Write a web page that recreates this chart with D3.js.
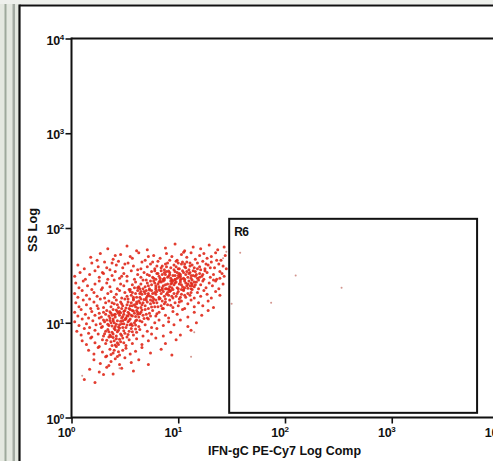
<!DOCTYPE html>
<html><head><meta charset="utf-8">
<script src="https://cdn.jsdelivr.net/npm/d3@7"></script>
<style>html,body{margin:0;padding:0;background:#fff;overflow:hidden}</style>
</head><body>
<svg id="chart" width="493" height="461"></svg>
<script>
// ---- data (log10 of event intensities) ----
const xTickExponents = [0, 1, 2, 3, 4];
const yTickExponents = [0, 1, 2, 3, 4];
const xAxisTitle = "IFN-gC PE-Cy7 Log Comp";
const yAxisTitle = "SS Log";
const gateName = "R6";
const gateX = [30, 6300];   // IFN-gC range of gate R6
const gateY = [1.12, 125];  // SS range of gate R6

// main population: [log10 IFN-gC, log10 SS]
const mainEvents = [
[0.34,1.78],[0.52,1.81],[0.71,1.77],[0.88,1.79],[0.97,1.83],[1.06,1.76],[1.14,1.80],[1.21,1.78],[1.29,1.82],[1.37,1.77],[1.43,1.80],[0.61,1.76],
[0.18,1.69],[0.27,1.73],[0.39,1.67],[0.46,1.72],[0.55,1.70],[0.63,1.74],[0.69,1.66],[0.77,1.71],[0.83,1.68],[0.89,1.73],[0.94,1.70],[0.99,1.66],[1.03,1.72],[1.08,1.69],[1.12,1.74],[1.16,1.67],[1.20,1.71],[1.24,1.73],[1.27,1.68],[1.31,1.70],[1.35,1.74],[1.40,1.66],[1.44,1.71],[0.92,1.66],[1.05,1.745],
[0.06,1.61],[0.12,1.57],[0.19,1.63],[0.25,1.59],[0.31,1.64],[0.36,1.56],[0.42,1.61],[0.48,1.58],[0.53,1.63],[0.58,1.60],[0.62,1.56],[0.66,1.64],[0.71,1.59],[0.74,1.62],[0.78,1.57],[0.81,1.65],[0.85,1.60],[0.87,1.56],[0.90,1.63],[0.93,1.58],[0.96,1.61],[0.98,1.65],[1.01,1.57],[1.03,1.62],[1.06,1.59],[1.08,1.64],[1.10,1.56],[1.13,1.61],[1.15,1.58],[1.18,1.63],[1.20,1.59],[1.23,1.65],[1.25,1.57],[1.28,1.61],[1.31,1.64],[1.34,1.58],[1.38,1.62],[1.42,1.60],[1.45,1.57],[0.89,1.59],[1.00,1.63],[1.11,1.60],[0.76,1.64],[1.21,1.56],[0.44,1.65],
[0.03,1.49],[0.08,1.53],[0.13,1.46],[0.17,1.51],[0.22,1.55],[0.26,1.48],[0.30,1.52],[0.34,1.46],[0.38,1.50],[0.41,1.54],[0.45,1.47],[0.49,1.52],[0.52,1.49],[0.56,1.55],[0.59,1.46],[0.62,1.51],[0.65,1.48],[0.68,1.53],[0.70,1.45],[0.73,1.50],[0.75,1.54],[0.77,1.47],[0.80,1.52],[0.82,1.49],[0.84,1.55],[0.86,1.46],[0.88,1.51],[0.90,1.48],[0.92,1.53],[0.94,1.45],[0.95,1.50],[0.97,1.54],[0.99,1.47],[1.01,1.52],[1.02,1.49],[1.04,1.55],[1.06,1.46],[1.07,1.51],[1.09,1.48],[1.11,1.53],[1.13,1.45],[1.14,1.50],[1.16,1.54],[1.18,1.47],[1.20,1.52],[1.22,1.49],[1.24,1.46],[1.27,1.53],[1.30,1.48],[1.33,1.51],[1.36,1.46],[1.39,1.54],[1.43,1.49],[0.87,1.53],[0.93,1.47],[1.00,1.50],[1.05,1.53],[0.79,1.46],[1.12,1.50],[0.71,1.51],[0.97,1.46],[1.17,1.51],[0.83,1.47],[1.03,1.465],[0.91,1.545],
[0.04,1.42],[0.07,1.37],[0.11,1.44],[0.15,1.39],[0.19,1.35],[0.22,1.41],[0.26,1.44],[0.29,1.37],[0.33,1.42],[0.36,1.38],[0.40,1.45],[0.43,1.36],[0.46,1.41],[0.49,1.39],[0.52,1.44],[0.55,1.35],[0.57,1.40],[0.60,1.43],[0.62,1.37],[0.65,1.41],[0.67,1.45],[0.69,1.38],[0.71,1.42],[0.73,1.36],[0.75,1.40],[0.77,1.44],[0.79,1.37],[0.81,1.41],[0.82,1.35],[0.84,1.43],[0.86,1.39],[0.87,1.45],[0.89,1.36],[0.90,1.41],[0.92,1.38],[0.93,1.44],[0.95,1.35],[0.96,1.40],[0.98,1.43],[0.99,1.37],[1.01,1.41],[1.02,1.45],[1.04,1.38],[1.05,1.35],[1.07,1.42],[1.08,1.39],[1.10,1.44],[1.12,1.36],[1.13,1.41],[1.15,1.38],[1.17,1.43],[1.19,1.36],[1.21,1.40],[1.23,1.44],[1.26,1.37],[1.29,1.42],[1.32,1.39],[1.35,1.44],[1.38,1.36],[1.42,1.41],[0.94,1.42],[0.88,1.40],[1.00,1.36],[1.06,1.44],[0.85,1.37],[0.97,1.45],[1.11,1.39],[0.78,1.42],[0.91,1.355],[1.03,1.40],[0.83,1.445],[1.16,1.40],[0.72,1.39],[0.64,1.36],[1.09,1.365],
[0.03,1.31],[0.06,1.27],[0.10,1.34],[0.14,1.29],[0.17,1.25],[0.21,1.32],[0.24,1.28],[0.28,1.35],[0.31,1.26],[0.34,1.31],[0.37,1.33],[0.40,1.27],[0.42,1.30],[0.45,1.34],[0.47,1.26],[0.50,1.32],[0.52,1.28],[0.54,1.35],[0.56,1.29],[0.58,1.25],[0.60,1.31],[0.62,1.34],[0.64,1.27],[0.66,1.30],[0.68,1.33],[0.70,1.26],[0.72,1.31],[0.74,1.28],[0.75,1.34],[0.77,1.25],[0.79,1.30],[0.80,1.33],[0.82,1.27],[0.84,1.31],[0.85,1.35],[0.87,1.28],[0.88,1.25],[0.90,1.32],[0.91,1.29],[0.93,1.34],[0.95,1.26],[0.96,1.31],[0.98,1.28],[1.00,1.33],[1.01,1.25],[1.03,1.30],[1.05,1.34],[1.07,1.27],[1.09,1.31],[1.11,1.29],[1.13,1.35],[1.15,1.26],[1.18,1.32],[1.21,1.28],[1.24,1.34],[1.27,1.30],[1.31,1.26],[1.35,1.33],[1.39,1.29],[0.89,1.30],[0.78,1.32],[0.94,1.28],[0.71,1.28],[0.83,1.255],[0.99,1.31],[0.65,1.33],[1.06,1.29],[0.76,1.27],[0.92,1.33],[0.57,1.32],[1.02,1.27],[0.86,1.33],[0.73,1.345],[0.61,1.27],[1.12,1.32],
[0.04,1.21],[0.07,1.17],[0.11,1.24],[0.14,1.19],[0.18,1.15],[0.21,1.22],[0.24,1.18],[0.27,1.25],[0.30,1.16],[0.32,1.21],[0.35,1.23],[0.37,1.17],[0.40,1.20],[0.42,1.24],[0.44,1.16],[0.46,1.22],[0.48,1.18],[0.50,1.25],[0.52,1.19],[0.54,1.15],[0.56,1.21],[0.58,1.24],[0.60,1.17],[0.61,1.20],[0.63,1.23],[0.65,1.16],[0.67,1.21],[0.69,1.18],[0.70,1.24],[0.72,1.15],[0.74,1.20],[0.76,1.23],[0.78,1.17],[0.80,1.21],[0.82,1.25],[0.84,1.18],[0.86,1.15],[0.88,1.22],[0.90,1.19],[0.92,1.24],[0.95,1.16],[0.97,1.21],[1.00,1.18],[1.03,1.23],[1.06,1.15],[1.09,1.20],[1.12,1.24],[1.15,1.17],[1.19,1.21],[1.23,1.18],[1.28,1.23],[1.33,1.16],[0.53,1.22],[0.66,1.19],[0.75,1.165],[0.59,1.19],[0.47,1.20],[0.81,1.17],[0.71,1.22],[0.38,1.21],[0.62,1.155],[0.87,1.20],[0.55,1.18],[0.79,1.24],[0.43,1.19],[0.68,1.245],[0.93,1.185],[0.51,1.155],[1.01,1.22],[0.64,1.21],
[0.03,1.11],[0.06,1.07],[0.09,1.14],[0.13,1.09],[0.16,1.05],[0.19,1.12],[0.22,1.08],[0.25,1.15],[0.28,1.06],[0.30,1.11],[0.33,1.13],[0.35,1.07],[0.37,1.10],[0.39,1.14],[0.41,1.06],[0.43,1.12],[0.45,1.08],[0.47,1.15],[0.49,1.09],[0.51,1.05],[0.53,1.11],[0.55,1.14],[0.57,1.07],[0.59,1.10],[0.61,1.13],[0.63,1.06],[0.65,1.11],[0.67,1.08],[0.69,1.14],[0.71,1.05],[0.73,1.10],[0.76,1.13],[0.79,1.07],[0.82,1.11],[0.85,1.15],[0.88,1.08],[0.91,1.05],[0.95,1.12],[0.99,1.09],[1.04,1.14],[1.09,1.06],[1.15,1.11],[1.22,1.08],[1.28,1.13],[0.44,1.10],[0.50,1.13],[0.56,1.08],[0.62,1.09],[0.38,1.08],[0.48,1.065],[0.54,1.095],[0.66,1.135],[0.42,1.135],[0.58,1.125],[0.36,1.115],[0.70,1.09],[0.52,1.075],[0.46,1.105],[0.60,1.065],[0.74,1.07],[0.64,1.095],[0.40,1.085],[0.32,1.09],[0.26,1.10],[0.80,1.095],
[0.03,1.01],[0.07,0.97],[0.10,1.04],[0.14,0.99],[0.17,0.95],[0.20,1.02],[0.23,0.98],[0.26,1.05],[0.29,0.96],[0.31,1.01],[0.33,1.03],[0.35,0.97],[0.37,1.00],[0.39,1.04],[0.41,0.96],[0.43,1.02],[0.45,0.98],[0.47,1.05],[0.49,0.99],[0.51,0.95],[0.53,1.01],[0.55,1.04],[0.57,0.97],[0.59,1.00],[0.61,1.03],[0.63,0.96],[0.66,1.01],[0.69,0.98],[0.72,1.04],[0.75,0.95],[0.78,1.00],[0.82,1.03],[0.86,0.97],[0.91,1.01],[0.96,0.98],[1.02,1.03],[1.09,0.96],[1.17,1.00],[0.40,1.00],[0.46,1.015],[0.52,0.975],[0.36,1.025],[0.44,0.955],[0.50,1.035],[0.56,0.99],[0.42,0.985],[0.48,1.02],[0.34,0.985],[0.38,0.965],[0.54,1.025],[0.60,0.975],[0.64,1.02],[0.30,1.03],[0.27,0.99],[0.68,1.045],
[0.05,0.91],[0.09,0.87],[0.12,0.94],[0.16,0.89],[0.19,0.85],[0.22,0.92],[0.25,0.88],[0.28,0.95],[0.30,0.86],[0.32,0.91],[0.34,0.93],[0.36,0.87],[0.38,0.90],[0.40,0.94],[0.42,0.86],[0.44,0.92],[0.46,0.88],[0.48,0.95],[0.50,0.89],[0.52,0.85],[0.54,0.91],[0.56,0.94],[0.58,0.87],[0.61,0.90],[0.64,0.93],[0.67,0.86],[0.71,0.91],[0.75,0.88],[0.80,0.94],[0.86,0.86],[0.93,0.90],[1.02,0.87],[1.12,0.92],[0.39,0.88],[0.43,0.905],[0.47,0.865],[0.35,0.905],[0.41,0.925],[0.45,0.945],[0.49,0.915],[0.53,0.875],[0.31,0.885],[0.57,0.905],[0.37,0.855],[0.60,0.935],
[0.10,0.81],[0.14,0.77],[0.18,0.84],[0.22,0.79],[0.26,0.75],[0.29,0.82],[0.32,0.78],[0.35,0.85],[0.38,0.76],[0.40,0.81],[0.42,0.83],[0.44,0.77],[0.46,0.80],[0.48,0.84],[0.51,0.76],[0.54,0.82],[0.57,0.78],[0.61,0.83],[0.66,0.77],[0.72,0.81],[0.79,0.84],[0.88,0.78],[0.98,0.82],[0.37,0.80],[0.41,0.765],[0.45,0.825],[0.33,0.815],[0.49,0.79],[0.39,0.845],[0.43,0.79],
[0.16,0.71],[0.21,0.67],[0.25,0.74],[0.29,0.69],[0.33,0.65],[0.36,0.72],[0.39,0.68],[0.42,0.75],[0.45,0.66],[0.48,0.71],[0.51,0.73],[0.55,0.67],[0.60,0.70],[0.66,0.74],[0.74,0.68],[0.84,0.72],[0.94,0.66],[0.40,0.71],[0.44,0.695],[0.37,0.665],
[0.21,0.61],[0.27,0.57],[0.32,0.64],[0.37,0.59],[0.41,0.62],[0.45,0.56],[0.50,0.63],[0.56,0.58],[0.63,0.61],[0.72,0.56],[0.35,0.55],[0.43,0.645],
[0.17,0.51],[0.26,0.48],[0.33,0.53],[0.39,0.46],[0.47,0.52],[0.58,0.49],[0.30,0.455],
[0.12,0.40],[0.22,0.37]
];
// extra events in the dense core of the population
const coreEvents = [
[0.81,1.52],[0.86,1.44],[0.91,1.49],[0.96,1.56],[1.02,1.43],[1.07,1.58],[1.12,1.47],[0.84,1.58],[0.94,1.37],[0.99,1.53],[1.04,1.64],[1.09,1.41],[1.14,1.55],[1.19,1.45],[0.79,1.39],[0.88,1.62],[0.97,1.42],[1.01,1.48],[1.06,1.37],[1.11,1.63],[1.16,1.49],[0.76,1.48],[0.83,1.34],[0.92,1.51],[0.98,1.59],[1.03,1.35],[1.08,1.54],[1.13,1.39],[1.18,1.57],[1.23,1.51],[0.87,1.47],[0.95,1.44],[1.00,1.57],[1.05,1.47],[1.10,1.52],[1.15,1.43],[0.82,1.43],[0.89,1.54],[0.93,1.41],[1.02,1.51],[0.78,1.55],[0.85,1.51],[0.91,1.35],[0.97,1.50],[1.06,1.62],[1.12,1.42],[1.20,1.48],[1.25,1.55],[0.74,1.44],[0.80,1.60],
[0.58,1.27],[0.63,1.38],[0.69,1.31],[0.74,1.24],[0.79,1.35],[0.55,1.33],[0.61,1.22],[0.67,1.36],[0.72,1.29],[0.77,1.21],[0.82,1.38],[0.53,1.25],[0.59,1.37],[0.65,1.25],[0.70,1.34],[0.76,1.31],[0.85,1.23],[0.88,1.36],[0.57,1.18],[0.64,1.31],
[0.39,1.02],[0.45,1.12],[0.51,1.04],[0.57,1.13],[0.41,1.09],[0.47,0.99],[0.53,1.07],[0.60,1.02],[0.36,1.05],[0.49,1.12],[0.55,0.98],[0.62,1.11],
[0.24,1.66],[0.33,1.58],[0.41,1.71],[0.50,1.62],[0.57,1.68],[0.65,1.57],[0.72,1.70],[0.29,1.53],[0.47,1.49],[0.38,1.63],
[1.30,1.58],[1.36,1.66],[1.41,1.52],[1.33,1.45],[1.26,1.62],[1.39,1.47]
];
// sparse events near / inside the gate
const sparseEvents = [
[1.58,1.74],[2.10,1.50],[2.53,1.37],[1.87,1.21],[1.50,1.20],[1.45,1.75],[1.42,1.68],[1.15,0.90],[1.12,0.64],[0.45,0.52],[0.10,0.44]
];

// ---- drawing ----
const svg = d3.select("#chart");
const W = 493, H = 461;

// scanned-page look on the far left
svg.append("rect").attr("x",0).attr("y",0).attr("width",W).attr("height",H).attr("fill","#ffffff");
svg.append("rect").attr("x",0).attr("y",0).attr("width",19).attr("height",H).attr("fill","#e4e8e0");
svg.append("rect").attr("x",4.5).attr("y",0).attr("width",2).attr("height",H).attr("fill","#9ea99c");
svg.append("rect").attr("x",12.5).attr("y",0).attr("width",2.5).attr("height",H).attr("fill","#a3aaa2");
svg.append("rect").attr("x",0).attr("y",0).attr("width",W).attr("height",4).attr("fill","#eef0ec");
// outer frame
svg.append("line").attr("x1",19.5).attr("x2",19.5).attr("y1",4.5).attr("y2",H).attr("stroke","#111").attr("stroke-width",2.2);
svg.append("line").attr("x1",19.5).attr("x2",W).attr("y1",5.5).attr("y2",5.5).attr("stroke","#111").attr("stroke-width",2.2);

const x = d3.scaleLog().domain([1, 1e4]).range([71.5, 498.5]);
const y = d3.scaleLog().domain([1, 1e4]).range([417.5, 38.5]);

// events
const dotColor = "#e0281a";
svg.append("g").selectAll("circle").data(mainEvents.concat(coreEvents)).join("circle")
  .attr("cx", d => x(Math.pow(10, d[0])))
  .attr("cy", d => y(Math.pow(10, d[1])))
  .attr("r", 1.5)
  .attr("fill", dotColor)
  .attr("opacity", 0.9);
svg.append("g").selectAll("circle").data(sparseEvents).join("circle")
  .attr("cx", d => x(Math.pow(10, d[0])))
  .attr("cy", d => y(Math.pow(10, d[1])))
  .attr("r", 1.0)
  .attr("fill", "#c77a72")
  .attr("opacity", 0.8);

// plot box: left, top, bottom lines
svg.append("line").attr("x1",x(1)).attr("x2",W).attr("y1",y(1e4)).attr("y2",y(1e4)).attr("stroke","#111").attr("stroke-width",2);
svg.append("line").attr("x1",x(1)).attr("x2",x(1)).attr("y1",y(1e4)-1).attr("y2",y(1)+1).attr("stroke","#111").attr("stroke-width",2);

// axes (tick marks) via d3 axes
const xAxis = d3.axisBottom(x).tickValues(xTickExponents.map(e => Math.pow(10, e))).tickSize(6).tickSizeOuter(0).tickFormat("");
const yAxis = d3.axisLeft(y).tickValues(yTickExponents.map(e => Math.pow(10, e))).tickSize(6).tickSizeOuter(0).tickFormat("");
const gx = svg.append("g").attr("transform", `translate(0,${y(1)})`).call(xAxis);
const gy = svg.append("g").attr("transform", `translate(${x(1)},0)`).call(yAxis);
gx.select(".domain").attr("d", `M${x(1)},0H${W}`).attr("stroke","#111").attr("stroke-width",2);
gy.select(".domain").remove();
gx.selectAll(".tick line").attr("stroke","#111").attr("stroke-width",1.6);
gy.selectAll(".tick line").attr("stroke","#111").attr("stroke-width",1.6);

const font = "'Liberation Sans', Arial, sans-serif";
// x tick labels
xTickExponents.forEach(e => {
  const t = svg.append("text").attr("x", x(Math.pow(10, e)) - 5).attr("y", 437)
    .attr("text-anchor","middle").attr("font-family",font).attr("font-weight","bold")
    .attr("font-size",12.5).attr("fill","#111").attr("letter-spacing",-0.3);
  t.append("tspan").text("10");
  t.append("tspan").attr("font-size",8).attr("dy",-5).text(e);
});
// y tick labels
yTickExponents.forEach(e => {
  const t = svg.append("text").attr("x", 64).attr("y", y(Math.pow(10, e)) + 6)
    .attr("text-anchor","end").attr("font-family",font).attr("font-weight","bold")
    .attr("font-size",12.5).attr("fill","#111").attr("letter-spacing",-0.3);
  t.append("tspan").text("10");
  t.append("tspan").attr("font-size",8).attr("dy",-5).text(e);
});

// axis titles
svg.append("text").attr("x",284.5).attr("y",455).attr("text-anchor","middle")
  .attr("font-family",font).attr("font-weight","bold").attr("font-size",12.5).attr("fill","#111")
  .attr("textLength",153).attr("lengthAdjust","spacingAndGlyphs").text(xAxisTitle);
svg.append("text").attr("transform","translate(37,230) rotate(-90)").attr("text-anchor","middle")
  .attr("font-family",font).attr("font-weight","bold").attr("font-size",12.5).attr("fill","#111")
  .attr("textLength",44).attr("lengthAdjust","spacingAndGlyphs").text(yAxisTitle);

// gate R6
svg.append("rect")
  .attr("x", x(gateX[0])).attr("y", y(gateY[1]))
  .attr("width", x(gateX[1]) - x(gateX[0])).attr("height", y(gateY[0]) - y(gateY[1]))
  .attr("fill","none").attr("stroke","#111").attr("stroke-width",2);
svg.append("text").attr("x", x(gateX[0]) + 5).attr("y", y(gateY[1]) + 17)
  .attr("font-family",font).attr("font-weight","bold").attr("font-size",12).attr("fill","#111")
  .attr("letter-spacing",-0.5).text(gateName);
</script>
</body></html>
